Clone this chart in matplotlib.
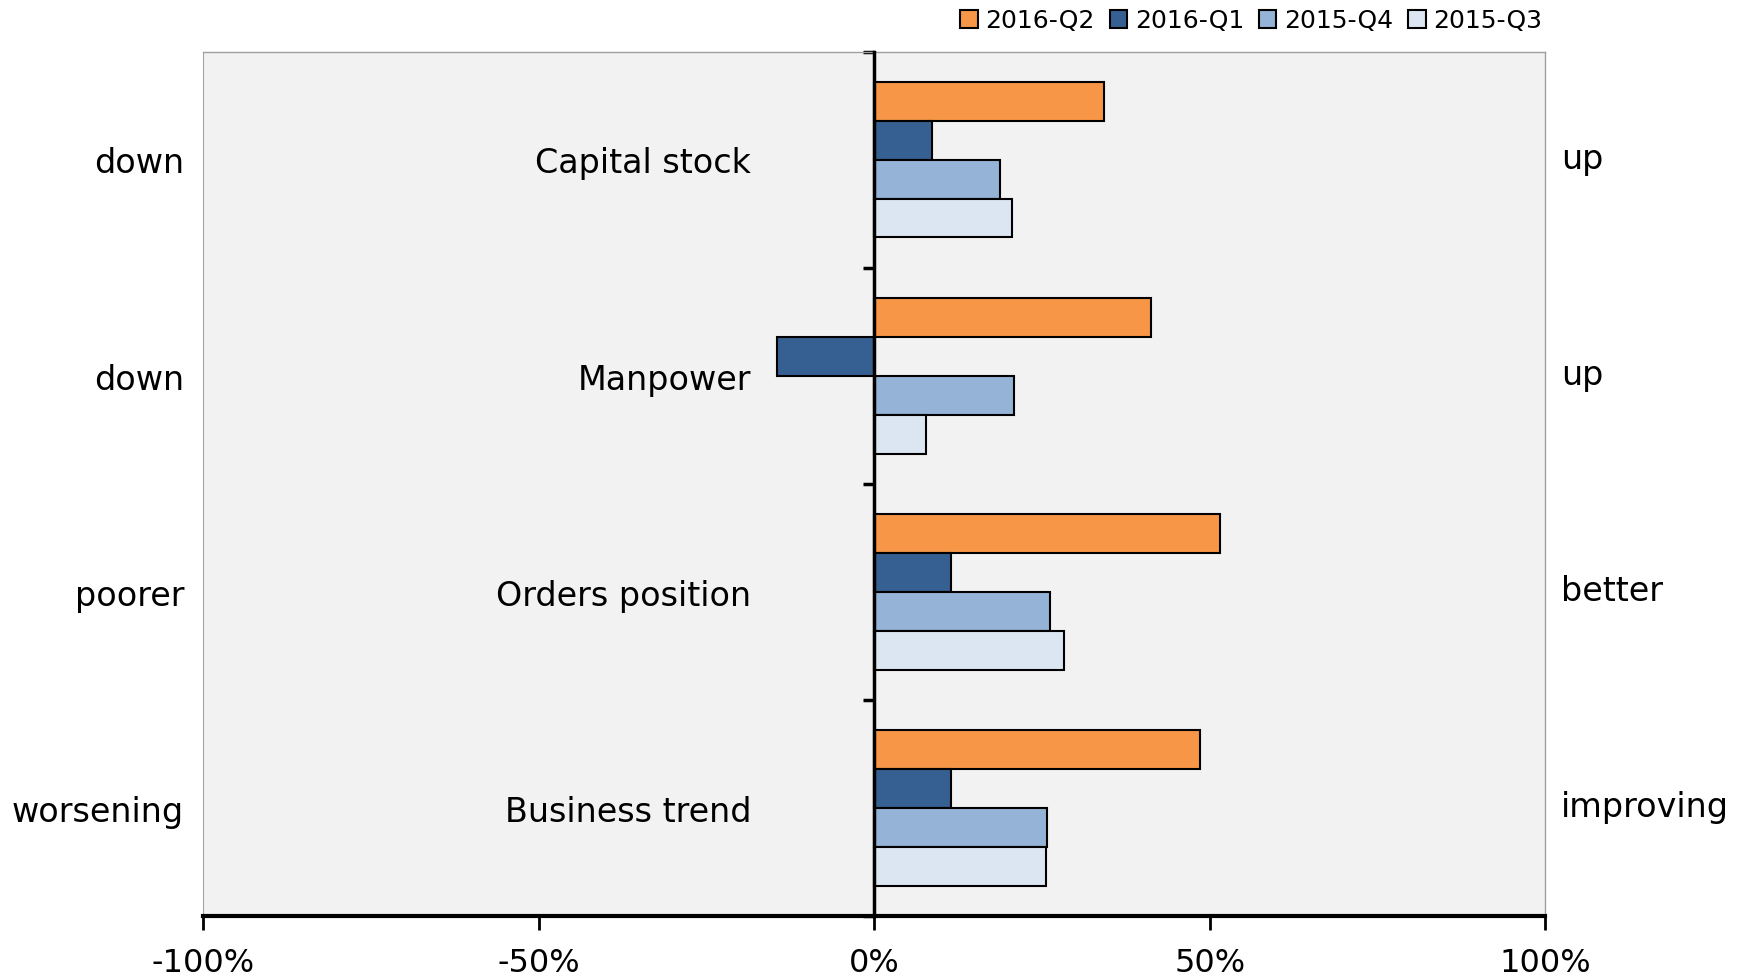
import numpy as np
import matplotlib
matplotlib.use("Agg")
import matplotlib.pyplot as plt
from matplotlib.transforms import blended_transform_factory

# categories, top to bottom
categories = ["Capital stock", "Manpower", "Orders position", "Business trend"]
left_words = ["down", "down", "poorer", "worsening"]
right_words = ["up", "up", "better", "improving"]

series_names = ["2016-Q2", "2016-Q1", "2015-Q4", "2015-Q3"]
q2_2016 = [34.2, 41.2, 51.6, 48.6]
q1_2016 = [8.6, -14.4, 11.5, 11.5]
q4_2015 = [18.7, 20.9, 26.2, 25.7]
q3_2015 = [20.6, 7.8, 28.3, 25.6]
series_values = [q2_2016, q1_2016, q4_2015, q3_2015]
colors = ["#f79646", "#376092", "#95b3d7", "#dce6f2"]

x_ticks = [-100, -50, 0, 50, 100]
x_tick_labels = ["-100%", "-50%", "0%", "50%", "100%"]

plt.rcParams['font.family'] = ['DejaVu Sans']

fig = plt.figure(figsize=(17.56, 9.8), dpi=100)
ax = fig.add_axes([0.1156, 0.0653, 0.7643, 0.8821])
ax.set_facecolor("#f2f2f2")

h = 0.18
centers = np.arange(len(categories)) + 0.5
for j, (name, vals, col) in enumerate(zip(series_names, series_values, colors)):
    ax.barh(centers + (j - 1.5) * h, vals, height=h, color=col,
            edgecolor="black", linewidth=1.5, label=name, zorder=3)

ax.set_xlim(-100, 100)
ax.set_ylim(len(categories), 0)

# zero line as the y axis
ax.spines['left'].set_position(('data', 0))
ax.spines['left'].set_linewidth(2.5)
ax.spines['left'].set_zorder(4)
ax.spines['bottom'].set_linewidth(3)
for s in ['top', 'right']:
    ax.spines[s].set_color("#a0a0a0")
    ax.spines[s].set_linewidth(1)
ax.axvline(-100, color="#a0a0a0", linewidth=1.5, zorder=1)

ax.set_yticks(np.arange(len(categories) + 1))
ax.set_yticklabels([])
ax.tick_params(axis='y', direction='out', length=8, width=2.5)

ax.set_xticks(x_ticks)
ax.set_xticklabels(x_tick_labels, fontsize=23)
ax.tick_params(axis='x', direction='out', length=10, width=2, pad=13)

for c, name in zip(centers, categories):
    ax.text(-18.3, c + 0.02, name, ha='right', va='center', fontsize=24, zorder=5)

trans = blended_transform_factory(ax.transAxes, ax.transData)
for c, lw, rw in zip(centers, left_words, right_words):
    ax.text(-0.014, c + 0.02, lw, ha='right', va='center', fontsize=24, transform=trans)
    ax.text(1.012, c, rw, ha='left', va='center', fontsize=24, transform=trans)

fig.legend(loc='upper right', bbox_to_anchor=(0.891, 1.014), ncol=4, frameon=False,
           fontsize=18, handlelength=0.7, handleheight=0.7, handletextpad=0.3,
           columnspacing=0.6)

fig.savefig("out.png", dpi=100)
